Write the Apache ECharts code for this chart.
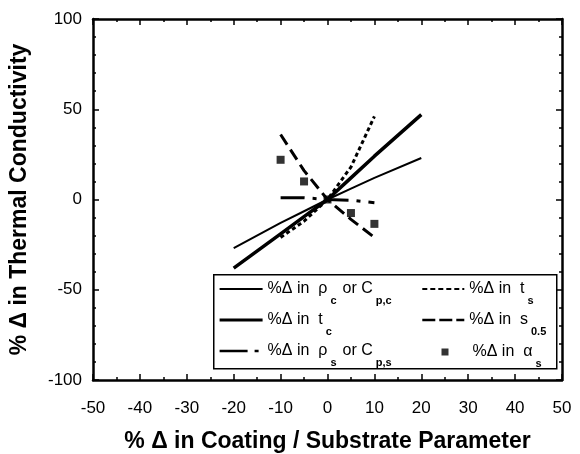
<!DOCTYPE html>
<html><head><meta charset="utf-8">
<script src="https://cdn.jsdelivr.net/npm/echarts@6/dist/echarts.min.js"></script>
<style>html,body{margin:0;padding:0;background:#fff}#c{width:580px;height:454px}</style>
</head><body><div id="c"></div>
<script>
// Data
const xWide = [-20, -10, -5, 0, 5, 10, 20];
const xNarrow = [-10, -5, 0, 5, 10];
const rhoC = [-27, -13, -6.5, 0, 6, 12, 23];
const tC = [-38, -19, -9.5, 0, 12, 24, 47];
const rhoS = [1, 1, 0, -0.4, -1.8];
const tS = [-21, -12, 0, 18, 46];
const s05 = [36, 16, 0, -11, -21];
const alphaS = [22, 10, 0, -7.5, -13.5];
const xTicks = [-50, 50, 10];
const yTicks = [-100, 100, 50];

const names = ['rhoC', 'tC', 'rhoS', 'tS', 's05', 'alphaS'];
const labels = {
  rhoC: '{t|%Δ in  ρ}{s|c}{t|or C}{s|p,c}',
  tC: '{t|%Δ in  t}{s|c}',
  rhoS: '{t|%Δ in  ρ}{s|s}{t|or C}{s|p,s}',
  tS: '{t|%Δ in  t}{s|s}',
  s05: '{t|%Δ in  s}{s|0.5}',
  alphaS: '{p|%Δ in  α}{s|s}'
};
const pairs = (xs, ys) => xs.map((x, i) => [x, ys[i]]);

const FONT = 'Liberation Sans, Arial, sans-serif';
const black = '#000';

function axisCommon(minorSplit) {
  return {
    axisLine: { onZero: false, lineStyle: { color: black, width: 2.5 } },
    axisTick: { inside: true, length: 6, lineStyle: { color: black, width: 1.5 } },
    minorTick: { show: true, splitNumber: minorSplit, length: 3, lineStyle: { color: black, width: 1.5 } },
    splitLine: { show: false },
    minorSplitLine: { show: false }
  };
}

const legendText = {
  color: black,
  rich: {
    t: { fontSize: 16, fontFamily: FONT, color: black },
    p: { fontSize: 16, fontFamily: FONT, color: black, padding: [0, 0, 0, 19] },
    s: { fontSize: 11, fontFamily: FONT, color: black, fontWeight: 'bold', padding: [24, 6, 0, 3] }
  }
};

const legendBase = {
  orient: 'vertical', itemGap: 5.5, padding: 0, formatter: n => labels[n], textStyle: legendText,
  selectedMode: false, z: 60
};

const option = {
  backgroundColor: '#fff',
  animation: false,
  grid: { left: 93, right: 18, top: 19, bottom: 74, outerBoundsMode: 'none' },
  xAxis: [
    Object.assign({
      type: 'value', min: xTicks[0], max: xTicks[1], interval: xTicks[2], position: 'bottom',
      axisLabel: { margin: 20, fontSize: 17, color: black, fontFamily: FONT },
      name: '% Δ in Coating / Substrate Parameter', nameLocation: 'middle', nameGap: 50,
      nameTextStyle: { fontSize: 23, fontWeight: 'bold', color: black, fontFamily: FONT }
    }, axisCommon(2)),
    Object.assign({
      type: 'value', min: xTicks[0], max: xTicks[1], interval: xTicks[2], position: 'top',
      axisLabel: { show: false }
    }, axisCommon(2))
  ],
  yAxis: [
    Object.assign({
      type: 'value', min: yTicks[0], max: yTicks[1], interval: yTicks[2], position: 'left',
      axisLabel: { margin: 11, fontSize: 17, color: black, fontFamily: FONT },
      name: '% Δ in Thermal Conductivity', nameLocation: 'middle', nameGap: 62, nameRotate: 90,
      nameTextStyle: { fontSize: 23, fontWeight: 'bold', color: black, fontFamily: FONT }
    }, axisCommon(5)),
    Object.assign({
      type: 'value', min: yTicks[0], max: yTicks[1], interval: yTicks[2], position: 'right',
      axisLabel: { show: false }
    }, axisCommon(5))
  ],
  graphic: [{
    type: 'rect', left: 213, top: 274, z: 50,
    shape: { width: 343, height: 94 },
    style: { fill: '#fff', stroke: black, lineWidth: 1.5 }
  }],
  legend: [
    Object.assign({}, legendBase, {
      left: 218, top: 281, itemWidth: 43, itemHeight: 8,
      itemStyle: { opacity: 0 },
      data: [
        { name: names[0], lineStyle: { width: 2 } },
        { name: names[1], lineStyle: { width: 3.2 } },
        { name: names[2], lineStyle: { width: 2.6, type: [28, 7, 4, 7] } }
      ]
    }),
    Object.assign({}, legendBase, {
      left: 421, top: 281, itemWidth: 42, itemHeight: 8,
      itemStyle: { opacity: 0 },
      data: [
        { name: names[3], lineStyle: { width: 2.2, type: [5, 3] } },
        { name: names[4], lineStyle: { width: 2.6, type: [13, 4] } }
      ]
    }),
    Object.assign({}, legendBase, {
      left: 441.5, top: 344, itemWidth: 7, itemHeight: 7,
      data: [{ name: names[5], icon: 'rect' }]
    })
  ],
  series: [
    { name: 'rhoC', type: 'line', data: pairs(xWide, rhoC), showSymbol: false,
      lineStyle: { color: black, width: 2 }, itemStyle: { color: black } },
    { name: 'tC', type: 'line', data: pairs(xWide, tC), showSymbol: false,
      lineStyle: { color: black, width: 3.5 }, itemStyle: { color: black } },
    { name: 'rhoS', type: 'line', data: pairs(xNarrow, rhoS), showSymbol: false,
      lineStyle: { color: black, width: 3, type: [24, 8, 4, 8] }, itemStyle: { color: black } },
    { name: 'tS', type: 'line', data: pairs(xNarrow, tS), showSymbol: false,
      lineStyle: { color: black, width: 3, type: [4, 3] }, itemStyle: { color: black } },
    { name: 's05', type: 'line', data: pairs(xNarrow, s05), showSymbol: false,
      lineStyle: { color: black, width: 3, type: [12, 6] }, itemStyle: { color: black } },
    { name: 'alphaS', type: 'scatter', data: pairs(xNarrow, alphaS), symbol: 'rect', symbolSize: 8,
      itemStyle: { color: black } }
  ]
};

const chart = echarts.init(document.getElementById('c'), null, { renderer: 'canvas' });
chart.setOption(option);
</script></body></html>
